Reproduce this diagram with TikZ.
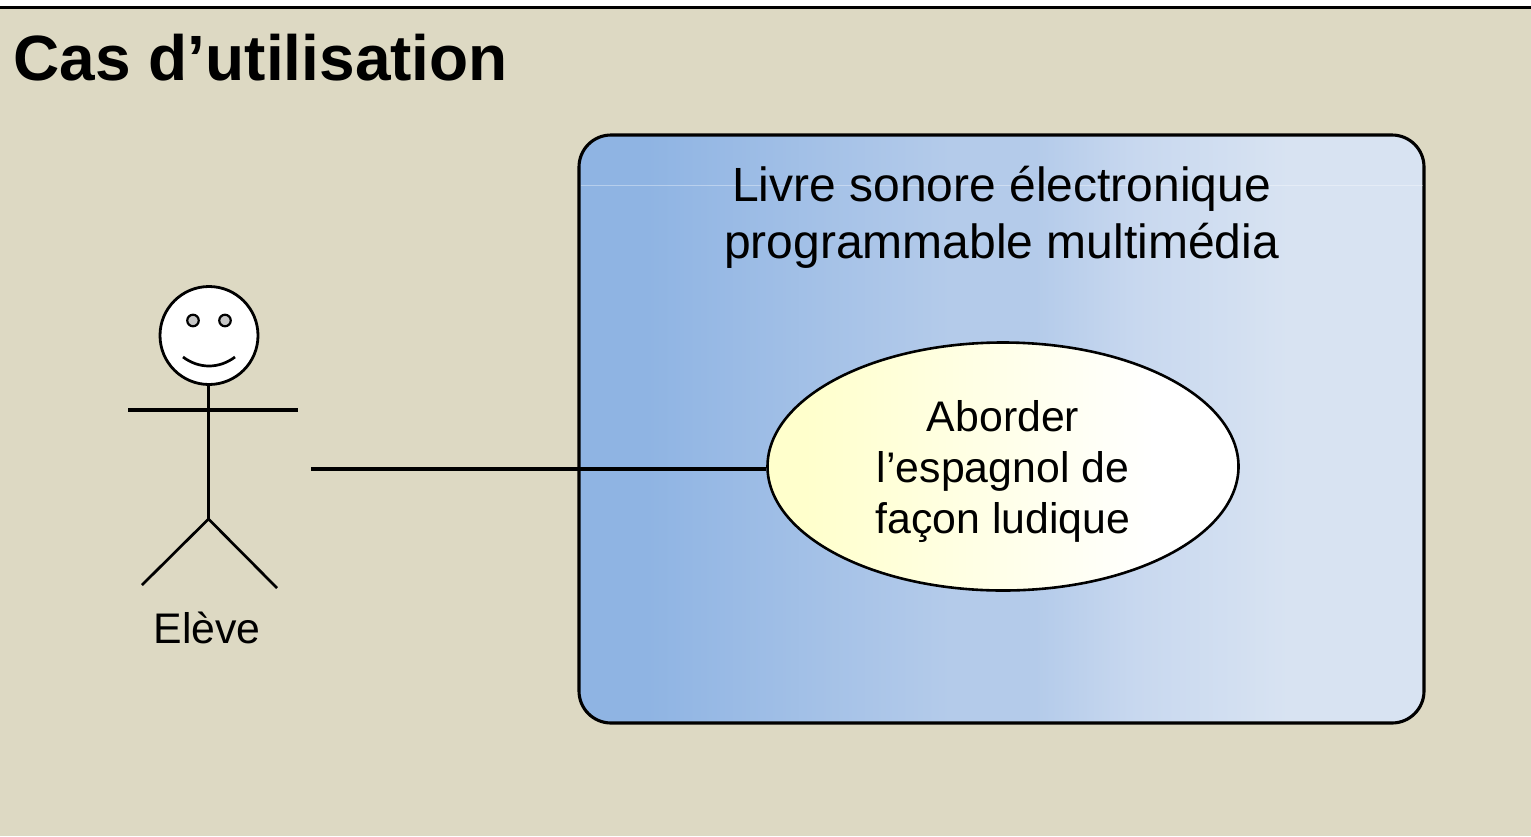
\documentclass[tikz,border=0pt]{standalone}
\usepackage{fontspec}
\setmainfont{Liberation Sans}
\usetikzlibrary{shapes.geometric,calc}
\definecolor{slidebg}{HTML}{DDD9C3}
\definecolor{boxa}{HTML}{8FB4E3}
\definecolor{boxb}{HTML}{B4CBEA}
\definecolor{boxc}{HTML}{C8D8EF}
\definecolor{boxd}{HTML}{D8E3F2}
\definecolor{casea}{HTML}{FFFFCC}
\definecolor{caseb}{HTML}{FFFFFF}
\pgfdeclarehorizontalshading{boxshade}{100bp}{
  color(0bp)=(boxa); color(29bp)=(boxa); color(47bp)=(boxb); color(52bp)=(boxb); color(58bp)=(boxc); color(67bp)=(boxd); color(100bp)=(boxd)}
\pgfdeclarehorizontalshading{caseshade}{100bp}{
  color(0bp)=(casea); color(29bp)=(casea); color(66bp)=(caseb); color(100bp)=(caseb)}
\tikzset{
  stroke/.style={line width=3.1pt,black},
  thinstroke/.style={line width=2.7pt,black},
  bodytext/.style={font=\fontsize{42.8}{51}\selectfont,align=center,text=black,inner sep=0pt},
  systemtext/.style={font=\fontsize{48}{57.5}\selectfont,align=center,text=black,inner sep=0pt},
}
\begin{document}
\begin{tikzpicture}[x=1pt,y=-1pt]
\useasboundingbox (0,0) rectangle (1531,836);
\fill[white] (0,0) rectangle (1531,836);
\fill[slidebg] (0,7) rectangle (1531,836);
\draw[line width=2.6pt,black] (0,7.5) -- (1531,7.5);
\node[anchor=base west,inner sep=0pt,font=\fontsize{64}{64}\selectfont\bfseries] (title) at (13.5,80) {Cas d’utilisation};

\draw[stroke,rounded corners=32pt,shading=boxshade] (579,135) rectangle (1424,723);
\draw[white,opacity=.35,line width=.8pt] (580.5,185) -- (1422.5,185);
\node[systemtext] (system) at (1001.5,217.5) {Livre sonore électronique\\programmable multimédia};

\node[ellipse,draw=black,line width=2.6pt,minimum width=471pt,minimum height=248pt,inner sep=0pt,shading=caseshade] (usecase) at (1003,466.5) {};
\node[bodytext] (caselabel) at (1003,472) {Aborder\\l’espagnol de\\façon ludique};

% actor
\node[circle,draw=black,line width=2.8pt,fill=white,minimum size=98pt,inner sep=0pt] (head) at (209,335.5) {};
\node[circle,draw=black,line width=2.2pt,fill=black!22,minimum size=11.5pt,inner sep=0pt] (eyeL) at (193,320.5) {};
\node[circle,draw=black,line width=2.2pt,fill=black!22,minimum size=11.5pt,inner sep=0pt] (eyeR) at (225,320.5) {};
\coordinate (smileL) at (183,357);
\coordinate (smileR) at (235,357);
\draw[thinstroke] (smileL) .. controls (199,369) and (219,369) .. (smileR);
\coordinate (hip) at (208.5,519);
\coordinate (armL) at (128,410);
\coordinate (armR) at (298,410);
\coordinate (footL) at (142,585);
\coordinate (footR) at (277,588);
\draw[stroke] (hip |- head.south) -- (hip);
\draw[stroke] (armL) -- (armR);
\draw[thinstroke] (footL) -- (hip) -- (footR);
\node[bodytext] (actorlabel) at (207,628) {Elève};

\coordinate (linkstart) at (311,469);
\draw[stroke] (linkstart) -- (linkstart -| usecase.west);
\end{tikzpicture}
\end{document}
